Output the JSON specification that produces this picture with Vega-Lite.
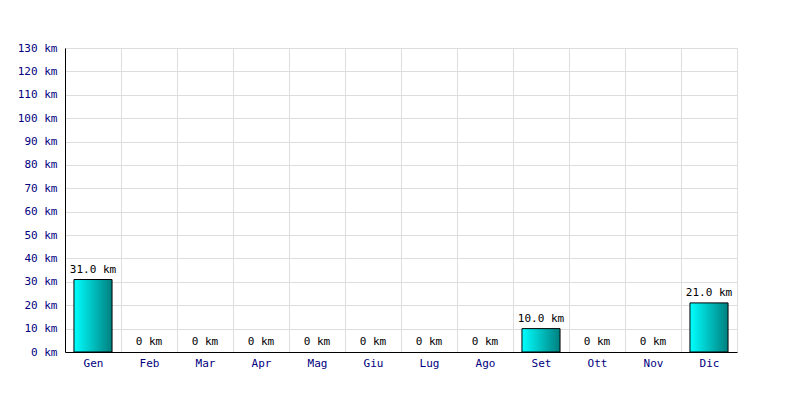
{
  "$schema": "https://vega.github.io/schema/vega-lite/v6.json",
  "width": 672,
  "height": 304,
  "autosize": "none",
  "padding": {"left": 65, "top": 48, "right": 63, "bottom": 48},
  "background": "white",
  "config": {
    "view": {"stroke": "#dddddd"},
    "font": "DejaVu Sans Mono"
  },
  "data": {
    "values": [
      {"mese": "Gen", "km": 31, "label": "31.0 km"},
      {"mese": "Feb", "km": 0, "label": "0 km"},
      {"mese": "Mar", "km": 0, "label": "0 km"},
      {"mese": "Apr", "km": 0, "label": "0 km"},
      {"mese": "Mag", "km": 0, "label": "0 km"},
      {"mese": "Giu", "km": 0, "label": "0 km"},
      {"mese": "Lug", "km": 0, "label": "0 km"},
      {"mese": "Ago", "km": 0, "label": "0 km"},
      {"mese": "Set", "km": 10, "label": "10.0 km"},
      {"mese": "Ott", "km": 0, "label": "0 km"},
      {"mese": "Nov", "km": 0, "label": "0 km"},
      {"mese": "Dic", "km": 21, "label": "21.0 km"}
    ]
  },
  "encoding": {
    "x": {
      "field": "mese", "type": "nominal",
      "sort": ["Gen","Feb","Mar","Apr","Mag","Giu","Lug","Ago","Set","Ott","Nov","Dic"],
      "scale": {"paddingInner": 0, "paddingOuter": 0},
      "axis": {
        "title": null, "labelAngle": 0, "ticks": false, "tickBand": "extent",
        "grid": true, "gridColor": "#dddddd", "gridOpacity": 1,
        "domainColor": "black", "labelColor": "#000080",
        "labelFont": "DejaVu Sans Mono", "labelFontSize": 11, "labelPadding": 5
      }
    },
    "y": {
      "field": "km", "type": "quantitative",
      "scale": {"domain": [0, 130], "nice": false},
      "axis": {
        "title": null, "values": [0,10,20,30,40,50,60,70,80,90,100,110,120,130],
        "labelExpr": "datum.value + ' km'", "ticks": false,
        "grid": true, "gridColor": "#dddddd", "gridOpacity": 1,
        "domainColor": "black", "labelColor": "#000080",
        "labelFont": "DejaVu Sans Mono", "labelFontSize": 11, "labelPadding": 8
      }
    }
  },
  "layer": [
    {
      "transform": [{"filter": "datum.km > 0"}],
      "mark": {
        "type": "bar", "stroke": "black", "strokeWidth": 1,
        "width": {"band": 0.68},
        "color": {
          "gradient": "linear", "x1": 0, "y1": 0, "x2": 1, "y2": 0,
          "stops": [{"offset": 0, "color": "#00ffff"}, {"offset": 1, "color": "#008080"}]
        }
      }
    },
    {
      "mark": {"type": "text", "baseline": "bottom", "dy": -5, "font": "DejaVu Sans Mono", "fontSize": 11, "color": "black"},
      "encoding": {"text": {"field": "label"}}
    }
  ]
}
